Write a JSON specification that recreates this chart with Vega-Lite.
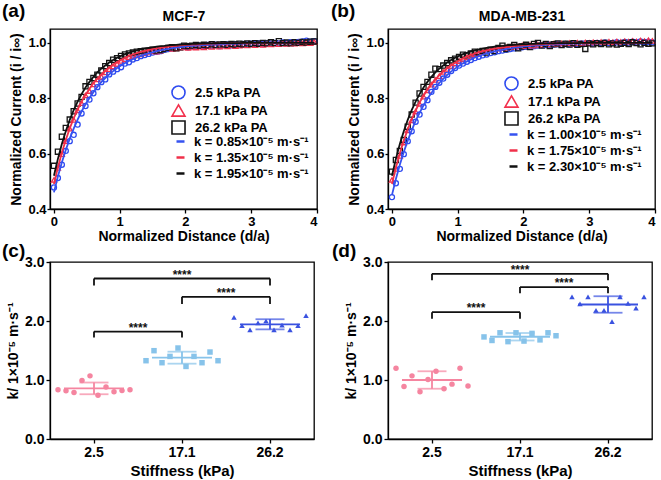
{
"$schema":"https://vega.github.io/schema/vega-lite/v6.json",
"background":"white",
"padding":{"left":1,"top":1,"right":4,"bottom":2},
"config":{"font":"Liberation Sans","view":{"stroke":"#000","strokeWidth":1.3},
"axis":{"grid":false,"domainColor":"#000","domainWidth":1.3,"tickColor":"#000","tickWidth":1.3,"tickSize":4,"labelFontWeight":"bold","labelFontSize":13,"labelColor":"#000","titleFontWeight":"bold","titleFontSize":14,"titleColor":"#000","labelPadding":2},
"title":{"fontSize":19,"fontWeight":"bold","color":"#000","anchor":"start","frame":"group"},
"legend":{"labelFontSize":13,"labelFontWeight":"bold","labelColor":"#000","padding":0,"rowPadding":4}},
"resolve":{"scale":{"color":"independent","shape":"independent","stroke":"independent"},"legend":{"color":"independent","shape":"independent","stroke":"independent"}},
"columns":2,"spacing":{"row":53,"column":71},"bounds":"flush",
"concat":[
{"width":267,"height":180,"title":{"text":"(a)","dx":-48,"offset":-12},
"data":{"values":[
{"d":0,"p25":0.478,"p171":0.505,"p262":0.556,"f25":0.46,"f171":0.49,"f262":0.52},
{"d":0.06,"p25":0.512,"p171":0.548,"p262":0.607,"f25":0.517,"f171":0.55,"f262":0.581},
{"d":0.12,"p25":0.56,"p171":0.598,"p262":0.661,"f25":0.568,"f171":0.603,"f262":0.635},
{"d":0.18,"p25":0.61,"p171":0.645,"p262":0.693,"f25":0.613,"f171":0.649,"f262":0.681},
{"d":0.24,"p25":0.645,"p171":0.69,"p262":0.723,"f25":0.654,"f171":0.691,"f262":0.722},
{"d":0.3,"p25":0.668,"p171":0.722,"p262":0.753,"f25":0.69,"f171":0.727,"f262":0.757},
{"d":0.36,"p25":0.705,"p171":0.756,"p262":0.781,"f25":0.723,"f171":0.759,"f262":0.788},
{"d":0.42,"p25":0.745,"p171":0.782,"p262":0.805,"f25":0.752,"f171":0.787,"f262":0.815},
{"d":0.48,"p25":0.772,"p171":0.81,"p262":0.843,"f25":0.778,"f171":0.812,"f262":0.839},
{"d":0.54,"p25":0.795,"p171":0.826,"p262":0.859,"f25":0.801,"f171":0.834,"f262":0.859},
{"d":0.6,"p25":0.818,"p171":0.85,"p262":0.873,"f25":0.822,"f171":0.854,"f262":0.877},
{"d":0.66,"p25":0.84,"p171":0.868,"p262":0.885,"f25":0.841,"f171":0.871,"f262":0.893},
{"d":0.72,"p25":0.858,"p171":0.878,"p262":0.9,"f25":0.858,"f171":0.886,"f262":0.907},
{"d":0.78,"p25":0.868,"p171":0.893,"p262":0.916,"f25":0.873,"f171":0.9,"f262":0.918},
{"d":0.84,"p25":0.886,"p171":0.905,"p262":0.927,"f25":0.886,"f171":0.911,"f262":0.929},
{"d":0.9,"p25":0.896,"p171":0.915,"p262":0.939,"f25":0.898,"f171":0.922,"f262":0.938},
{"d":0.96,"p25":0.905,"p171":0.924,"p262":0.945,"f25":0.909,"f171":0.931,"f262":0.946},
{"d":1.02,"p25":0.912,"p171":0.935,"p262":0.953,"f25":0.918,"f171":0.939,"f262":0.953},
{"d":1.08,"p25":0.925,"p171":0.94,"p262":0.958,"f25":0.927,"f171":0.946,"f262":0.959},
{"d":1.14,"p25":0.93,"p171":0.948,"p262":0.962,"f25":0.935,"f171":0.953,"f262":0.964},
{"d":1.2,"p25":0.94,"p171":0.952,"p262":0.965,"f25":0.941,"f171":0.958,"f262":0.969},
{"d":1.26,"p25":0.945,"p171":0.955,"p262":0.968,"f25":0.948,"f171":0.963,"f262":0.973},
{"d":1.32,"p25":0.952,"p171":0.958,"p262":0.97,"f25":0.953,"f171":0.967,"f262":0.976},
{"d":1.38,"p25":0.956,"p171":0.963,"p262":0.972,"f25":0.958,"f171":0.971,"f262":0.979},
{"d":1.44,"p25":0.96,"p171":0.967,"p262":0.971,"f25":0.962,"f171":0.975,"f262":0.982},
{"d":1.5,"p25":0.965,"p171":0.97,"p262":0.975,"f25":0.966,"f171":0.978,"f262":0.984},
{"d":1.56,"p25":0.968,"p171":0.968,"p262":0.972,"f25":0.97,"f171":0.98,"f262":0.986},
{"d":1.62,"p25":0.97,"p171":0.972,"p262":0.974,"f25":0.973,"f171":0.983,"f262":0.988},
{"d":1.68,"p25":0.975,"p171":0.978,"p262":0.978,"f25":0.976,"f171":0.985,"f262":0.989},
{"d":1.74,"p25":0.978,"p171":0.982,"p262":0.982,"f25":0.978,"f171":0.986,"f262":0.991},
{"d":1.8,"p25":0.98,"p171":0.978,"p262":0.984,"f25":0.981,"f171":0.988,"f262":0.992},
{"d":1.86,"p25":0.982,"p171":0.98,"p262":0.98,"f25":0.983,"f171":0.989,"f262":0.993},
{"d":1.92,"p25":0.985,"p171":0.983,"p262":0.984,"f25":0.985,"f171":0.991,"f262":0.994},
{"d":1.98,"p25":0.986,"p171":0.985,"p262":0.99,"f25":0.986,"f171":0.992,"f262":0.995},
{"d":2.04,"p25":0.984,"p171":0.982,"p262":0.988,"f25":0.988,"f171":0.993,"f262":0.995},
{"d":2.1,"p25":0.988,"p171":0.985,"p262":0.99,"f25":0.989,"f171":0.994,"f262":0.996},
{"d":2.16,"p25":0.987,"p171":0.983,"p262":0.992,"f25":0.99,"f171":0.994,"f262":0.996},
{"d":2.22,"p25":0.99,"p171":0.986,"p262":0.99,"f25":0.991,"f171":0.995,"f262":0.997},
{"d":2.28,"p25":0.988,"p171":0.984,"p262":0.993,"f25":0.992,"f171":0.996,"f262":0.997},
{"d":2.34,"p25":0.992,"p171":0.988,"p262":0.991,"f25":0.993,"f171":0.996,"f262":0.998},
{"d":2.4,"p25":0.99,"p171":0.985,"p262":0.995,"f25":0.994,"f171":0.997,"f262":0.998},
{"d":2.46,"p25":0.993,"p171":0.99,"p262":0.992,"f25":0.994,"f171":0.997,"f262":0.998},
{"d":2.52,"p25":0.988,"p171":0.986,"p262":0.994,"f25":0.995,"f171":0.998,"f262":0.999},
{"d":2.58,"p25":0.992,"p171":0.99,"p262":0.995,"f25":0.995,"f171":0.998,"f262":0.999},
{"d":2.64,"p25":0.994,"p171":0.987,"p262":0.993,"f25":0.996,"f171":0.998,"f262":0.999},
{"d":2.7,"p25":0.991,"p171":0.992,"p262":0.996,"f25":0.996,"f171":0.998,"f262":0.999},
{"d":2.76,"p25":0.995,"p171":0.988,"p262":0.994,"f25":0.997,"f171":0.999,"f262":0.999},
{"d":2.82,"p25":0.993,"p171":0.99,"p262":0.997,"f25":0.997,"f171":0.999,"f262":0.999},
{"d":2.88,"p25":0.996,"p171":0.993,"p262":0.995,"f25":0.997,"f171":0.999,"f262":1},
{"d":2.94,"p25":0.994,"p171":0.991,"p262":0.998,"f25":0.998,"f171":0.999,"f262":1},
{"d":3,"p25":0.997,"p171":0.994,"p262":0.996,"f25":0.998,"f171":0.999,"f262":1},
{"d":3.06,"p25":0.995,"p171":0.992,"p262":0.999,"f25":0.998,"f171":0.999,"f262":1},
{"d":3.12,"p25":0.998,"p171":0.995,"p262":0.997,"f25":0.998,"f171":1,"f262":1},
{"d":3.18,"p25":0.996,"p171":0.993,"p262":1,"f25":0.999,"f171":1,"f262":1},
{"d":3.24,"p25":0.999,"p171":0.996,"p262":0.998,"f25":0.999,"f171":1,"f262":1},
{"d":3.3,"p25":0.997,"p171":0.994,"p262":1.002,"f25":0.999,"f171":1,"f262":1},
{"d":3.36,"p25":1,"p171":0.997,"p262":0.999,"f25":0.999,"f171":1,"f262":1},
{"d":3.42,"p25":0.998,"p171":0.995,"p262":1.006,"f25":0.999,"f171":1,"f262":1},
{"d":3.48,"p25":1.001,"p171":0.998,"p262":0.999,"f25":0.999,"f171":1,"f262":1},
{"d":3.54,"p25":0.999,"p171":0.996,"p262":1.001,"f25":0.999,"f171":1,"f262":1},
{"d":3.6,"p25":1.002,"p171":0.999,"p262":0.998,"f25":1,"f171":1,"f262":1},
{"d":3.66,"p25":1,"p171":0.997,"p262":1.002,"f25":1,"f171":1,"f262":1},
{"d":3.72,"p25":1.003,"p171":1,"p262":1,"f25":1,"f171":1,"f262":1},
{"d":3.78,"p25":1.005,"p171":0.998,"p262":1.003,"f25":1,"f171":1,"f262":1},
{"d":3.84,"p25":1.008,"p171":1.002,"p262":1.001,"f25":1,"f171":1,"f262":1},
{"d":3.9,"p25":1.004,"p171":0.999,"p262":1.004,"f25":1,"f171":1,"f262":1},
{"d":3.96,"p25":1.006,"p171":1.003,"p262":1.005,"f25":1,"f171":1,"f262":1}]},
"resolve":{"axis":{"x":"independent"}},
"layer":[
{"transform":[{"fold":["p25","p171","p262"],"as":["s","v"]}],
"mark":{"type":"point","filled":false,"size":26,"strokeWidth":1.3,"opacity":1},
"encoding":{
"x":{"field":"d","type":"quantitative","title":"Normalized Distance (d/a)","scale":{"domain":[-0.06,4],"nice":false,"zero":false},"axis":{"values":[0,1,2,3,4],"titlePadding":1}},
"y":{"field":"v","type":"quantitative","title":"Normalized Current (i / i∞)","scale":{"domain":[0.4,1.05],"nice":false,"zero":false},"axis":{"values":[0.4,0.6,0.8,1.0],"format":".1f","tickSize":3,"labelPadding":1,"titlePadding":4}},
"color":{"field":"s","type":"nominal","scale":{"domain":["p25","p171","p262"],"range":["#2E4BF0","#F2304C","#151515"]},"legend":{"orient":"none","legendX":121,"legendY":56,"title":null,"symbolSize":170,"symbolStrokeWidth":1.6,"labelOffset":9,"rowPadding":-5,"labelExpr":"datum.value=='p25'?'2.5 kPa PA':datum.value=='p171'?'17.1 kPa PA':'26.2 kPa PA'"}},
"shape":{"field":"s","type":"nominal","scale":{"domain":["p25","p171","p262"],"range":["circle","triangle-up","square"]},"legend":{"orient":"none","legendX":121,"legendY":56,"title":null,"symbolSize":170,"symbolStrokeWidth":1.6,"labelOffset":9,"rowPadding":-5,"labelExpr":"datum.value=='p25'?'2.5 kPa PA':datum.value=='p171'?'17.1 kPa PA':'26.2 kPa PA'"}}}},
{"transform":[{"fold":["f25","f171","f262"],"as":["s","v"]}],
"mark":{"type":"line","strokeWidth":1.8},
"encoding":{
"x":{"field":"d","type":"quantitative","title":"MCF-7","scale":{"domain":[-0.06,4],"nice":false,"zero":false},"axis":{"orient":"top","labels":false,"ticks":false,"domain":false,"titlePadding":6}},
"y":{"field":"v","type":"quantitative","title":"Normalized Current (i / i∞)","scale":{"domain":[0.4,1.05],"nice":false,"zero":false},"axis":{"values":[0.4,0.6,0.8,1.0],"format":".1f","tickSize":3,"labelPadding":1,"titlePadding":4}},
"stroke":{"field":"s","type":"nominal","scale":{"domain":["f25","f171","f262"],"range":["#3552F0","#F0304A","#111111"]},"legend":{"orient":"none","legendX":124,"legendY":106,"title":null,"symbolType":"stroke","symbolSize":64,"symbolStrokeWidth":2.5,"labelOffset":7,"rowPadding":2,"labelExpr":"datum.value=='f25'?'k = 0.85×10⁻⁵ m·s⁻¹':datum.value=='f171'?'k = 1.35×10⁻⁵ m·s⁻¹':'k = 1.95×10⁻⁵ m·s⁻¹'"}}}}]},
{"width":267,"height":180,"title":{"text":"(b)","dx":-57,"offset":-12},
"data":{"values":[
{"d":0,"p25":0.443,"p171":0.505,"p262":0.535,"f25":0.45,"f171":0.49,"f262":0.52},
{"d":0.06,"p25":0.493,"p171":0.545,"p262":0.577,"f25":0.508,"f171":0.549,"f262":0.581},
{"d":0.12,"p25":0.545,"p171":0.592,"p262":0.61,"f25":0.56,"f171":0.601,"f262":0.635},
{"d":0.18,"p25":0.598,"p171":0.64,"p262":0.649,"f25":0.606,"f171":0.647,"f262":0.681},
{"d":0.24,"p25":0.645,"p171":0.684,"p262":0.697,"f25":0.647,"f171":0.688,"f262":0.722},
{"d":0.3,"p25":0.681,"p171":0.72,"p262":0.741,"f25":0.684,"f171":0.724,"f262":0.757},
{"d":0.36,"p25":0.715,"p171":0.752,"p262":0.784,"f25":0.718,"f171":0.755,"f262":0.788},
{"d":0.42,"p25":0.741,"p171":0.78,"p262":0.817,"f25":0.747,"f171":0.784,"f262":0.815},
{"d":0.48,"p25":0.769,"p171":0.806,"p262":0.841,"f25":0.774,"f171":0.809,"f262":0.839},
{"d":0.54,"p25":0.793,"p171":0.828,"p262":0.859,"f25":0.798,"f171":0.831,"f262":0.859},
{"d":0.6,"p25":0.823,"p171":0.849,"p262":0.885,"f25":0.819,"f171":0.85,"f262":0.877},
{"d":0.66,"p25":0.841,"p171":0.866,"p262":0.907,"f25":0.838,"f171":0.867,"f262":0.893},
{"d":0.72,"p25":0.856,"p171":0.88,"p262":0.905,"f25":0.855,"f171":0.883,"f262":0.907},
{"d":0.78,"p25":0.871,"p171":0.895,"p262":0.918,"f25":0.87,"f171":0.896,"f262":0.918},
{"d":0.84,"p25":0.885,"p171":0.906,"p262":0.927,"f25":0.884,"f171":0.908,"f262":0.929},
{"d":0.9,"p25":0.898,"p171":0.917,"p262":0.937,"f25":0.896,"f171":0.919,"f262":0.938},
{"d":0.96,"p25":0.909,"p171":0.926,"p262":0.943,"f25":0.907,"f171":0.928,"f262":0.946},
{"d":1.02,"p25":0.918,"p171":0.934,"p262":0.949,"f25":0.917,"f171":0.936,"f262":0.953},
{"d":1.08,"p25":0.925,"p171":0.942,"p262":0.957,"f25":0.926,"f171":0.944,"f262":0.959},
{"d":1.14,"p25":0.932,"p171":0.948,"p262":0.955,"f25":0.933,"f171":0.95,"f262":0.964},
{"d":1.2,"p25":0.938,"p171":0.953,"p262":0.962,"f25":0.94,"f171":0.956,"f262":0.969},
{"d":1.26,"p25":0.945,"p171":0.958,"p262":0.968,"f25":0.947,"f171":0.961,"f262":0.973},
{"d":1.32,"p25":0.95,"p171":0.962,"p262":0.966,"f25":0.952,"f171":0.966,"f262":0.976},
{"d":1.38,"p25":0.955,"p171":0.966,"p262":0.971,"f25":0.957,"f171":0.97,"f262":0.979},
{"d":1.44,"p25":0.958,"p171":0.97,"p262":0.965,"f25":0.962,"f171":0.973,"f262":0.982},
{"d":1.5,"p25":0.963,"p171":0.974,"p262":0.975,"f25":0.966,"f171":0.976,"f262":0.984},
{"d":1.56,"p25":0.966,"p171":0.976,"p262":0.97,"f25":0.969,"f171":0.979,"f262":0.986},
{"d":1.62,"p25":0.97,"p171":0.979,"p262":0.982,"f25":0.973,"f171":0.981,"f262":0.988},
{"d":1.68,"p25":0.972,"p171":0.981,"p262":0.99,"f25":0.975,"f171":0.983,"f262":0.989},
{"d":1.74,"p25":0.975,"p171":0.983,"p262":0.978,"f25":0.978,"f171":0.985,"f262":0.991},
{"d":1.8,"p25":0.978,"p171":0.984,"p262":0.985,"f25":0.98,"f171":0.987,"f262":0.992},
{"d":1.86,"p25":0.98,"p171":0.986,"p262":0.992,"f25":0.983,"f171":0.988,"f262":0.993},
{"d":1.92,"p25":0.982,"p171":0.987,"p262":0.98,"f25":0.984,"f171":0.99,"f262":0.994},
{"d":1.98,"p25":0.984,"p171":0.99,"p262":0.987,"f25":0.986,"f171":0.991,"f262":0.995},
{"d":2.04,"p25":0.986,"p171":0.988,"p262":0.993,"f25":0.987,"f171":0.992,"f262":0.995},
{"d":2.1,"p25":0.987,"p171":0.991,"p262":0.985,"f25":0.989,"f171":0.993,"f262":0.996},
{"d":2.16,"p25":0.988,"p171":0.99,"p262":0.996,"f25":0.99,"f171":0.994,"f262":0.996},
{"d":2.22,"p25":0.99,"p171":0.993,"p262":1,"f25":0.991,"f171":0.995,"f262":0.997},
{"d":2.28,"p25":0.991,"p171":0.992,"p262":0.99,"f25":0.992,"f171":0.995,"f262":0.997},
{"d":2.34,"p25":0.992,"p171":0.995,"p262":0.996,"f25":0.993,"f171":0.996,"f262":0.998},
{"d":2.4,"p25":0.993,"p171":0.994,"p262":0.988,"f25":0.994,"f171":0.996,"f262":0.998},
{"d":2.46,"p25":0.994,"p171":0.997,"p262":0.995,"f25":0.994,"f171":0.997,"f262":0.998},
{"d":2.52,"p25":0.995,"p171":0.995,"p262":0.998,"f25":0.995,"f171":0.997,"f262":0.999},
{"d":2.58,"p25":0.993,"p171":0.998,"p262":0.992,"f25":0.995,"f171":0.998,"f262":0.999},
{"d":2.64,"p25":0.996,"p171":0.996,"p262":0.997,"f25":0.996,"f171":0.998,"f262":0.999},
{"d":2.7,"p25":0.995,"p171":0.999,"p262":0.994,"f25":0.996,"f171":0.998,"f262":0.999},
{"d":2.76,"p25":0.997,"p171":0.997,"p262":0.999,"f25":0.997,"f171":0.998,"f262":0.999},
{"d":2.82,"p25":0.996,"p171":1,"p262":0.993,"f25":0.997,"f171":0.999,"f262":0.999},
{"d":2.88,"p25":0.998,"p171":0.998,"p262":0.996,"f25":0.997,"f171":0.999,"f262":1},
{"d":2.94,"p25":0.997,"p171":1.001,"p262":0.978,"f25":0.998,"f171":0.999,"f262":1},
{"d":3,"p25":0.999,"p171":0.999,"p262":0.998,"f25":0.998,"f171":0.999,"f262":1},
{"d":3.06,"p25":0.998,"p171":1.002,"p262":0.995,"f25":0.998,"f171":0.999,"f262":1},
{"d":3.12,"p25":1,"p171":1,"p262":0.999,"f25":0.998,"f171":0.999,"f262":1},
{"d":3.18,"p25":0.999,"p171":1.003,"p262":0.996,"f25":0.999,"f171":1,"f262":1},
{"d":3.24,"p25":1.001,"p171":1.001,"p262":1,"f25":0.999,"f171":1,"f262":1},
{"d":3.3,"p25":0.999,"p171":1.004,"p262":0.995,"f25":0.999,"f171":1,"f262":1},
{"d":3.36,"p25":1,"p171":1.002,"p262":0.998,"f25":0.999,"f171":1,"f262":1},
{"d":3.42,"p25":1.002,"p171":1.005,"p262":0.994,"f25":0.999,"f171":1,"f262":1},
{"d":3.48,"p25":1,"p171":1.003,"p262":0.997,"f25":0.999,"f171":1,"f262":1},
{"d":3.54,"p25":1.003,"p171":1.006,"p262":1,"f25":0.999,"f171":1,"f262":1},
{"d":3.6,"p25":1.001,"p171":1.004,"p262":0.996,"f25":1,"f171":1,"f262":1},
{"d":3.66,"p25":1.004,"p171":1.007,"p262":1.002,"f25":1,"f171":1,"f262":1},
{"d":3.72,"p25":1.002,"p171":1.005,"p262":0.999,"f25":1,"f171":1,"f262":1},
{"d":3.78,"p25":1.005,"p171":1.008,"p262":0.995,"f25":1,"f171":1,"f262":1},
{"d":3.84,"p25":1.003,"p171":1.006,"p262":1,"f25":1,"f171":1,"f262":1},
{"d":3.9,"p25":1.004,"p171":1.009,"p262":0.997,"f25":1,"f171":1,"f262":1},
{"d":3.96,"p25":1.002,"p171":1.007,"p262":0.998,"f25":1,"f171":1,"f262":1}]},
"resolve":{"axis":{"x":"independent"}},
"layer":[
{"transform":[{"fold":["p25","p171","p262"],"as":["s","v"]}],
"mark":{"type":"point","filled":false,"size":26,"strokeWidth":1.3,"opacity":1},
"encoding":{
"x":{"field":"d","type":"quantitative","title":"Normalized Distance (d/a)","scale":{"domain":[-0.06,4],"nice":false,"zero":false},"axis":{"values":[0,1,2,3,4],"titlePadding":1}},
"y":{"field":"v","type":"quantitative","title":"Normalized Current (i / i∞)","scale":{"domain":[0.4,1.05],"nice":false,"zero":false},"axis":{"values":[0.4,0.6,0.8,1.0],"format":".1f","tickSize":3,"labelPadding":1,"titlePadding":4}},
"color":{"field":"s","type":"nominal","scale":{"domain":["p25","p171","p262"],"range":["#2E4BF0","#F2304C","#151515"]},"legend":{"orient":"none","legendX":116,"legendY":47,"title":null,"symbolSize":170,"symbolStrokeWidth":1.6,"labelOffset":9,"rowPadding":-5,"labelExpr":"datum.value=='p25'?'2.5 kPa PA':datum.value=='p171'?'17.1 kPa PA':'26.2 kPa PA'"}},
"shape":{"field":"s","type":"nominal","scale":{"domain":["p25","p171","p262"],"range":["circle","triangle-up","square"]},"legend":{"orient":"none","legendX":116,"legendY":47,"title":null,"symbolSize":170,"symbolStrokeWidth":1.6,"labelOffset":9,"rowPadding":-5,"labelExpr":"datum.value=='p25'?'2.5 kPa PA':datum.value=='p171'?'17.1 kPa PA':'26.2 kPa PA'"}}}},
{"transform":[{"fold":["f25","f171","f262"],"as":["s","v"]}],
"mark":{"type":"line","strokeWidth":1.8},
"encoding":{
"x":{"field":"d","type":"quantitative","title":"MDA-MB-231","scale":{"domain":[-0.06,4],"nice":false,"zero":false},"axis":{"orient":"top","labels":false,"ticks":false,"domain":false,"titlePadding":6}},
"y":{"field":"v","type":"quantitative","title":"Normalized Current (i / i∞)","scale":{"domain":[0.4,1.05],"nice":false,"zero":false},"axis":{"values":[0.4,0.6,0.8,1.0],"format":".1f","tickSize":3,"labelPadding":1,"titlePadding":4}},
"stroke":{"field":"s","type":"nominal","scale":{"domain":["f25","f171","f262"],"range":["#3552F0","#F0304A","#111111"]},"legend":{"orient":"none","legendX":119,"legendY":99,"title":null,"symbolType":"stroke","symbolSize":64,"symbolStrokeWidth":2.5,"labelOffset":7,"rowPadding":2,"labelExpr":"datum.value=='f25'?'k = 1.00×10⁻⁵ m·s⁻¹':datum.value=='f171'?'k = 1.75×10⁻⁵ m·s⁻¹':'k = 2.30×10⁻⁵ m·s⁻¹'"}}}}]},
{"width":264,"height":177,"title":{"text":"(c)","dx":-48,"offset":-6},
"data":{"values":[
{"stiff":"2.5","rep":1,"k":0.835},{"stiff":"2.5","rep":2,"k":0.818},{"stiff":"2.5","rep":3,"k":0.79},{"stiff":"2.5","rep":4,"k":0.99},{"stiff":"2.5","rep":5,"k":1.07},{"stiff":"2.5","rep":6,"k":0.74},{"stiff":"2.5","rep":7,"k":0.88},{"stiff":"2.5","rep":8,"k":0.8},{"stiff":"2.5","rep":9,"k":0.82},{"stiff":"2.5","rep":10,"k":0.835},
{"stiff":"17.1","rep":1,"k":1.327},{"stiff":"17.1","rep":2,"k":1.497},{"stiff":"17.1","rep":3,"k":1.293},{"stiff":"17.1","rep":4,"k":1.4},{"stiff":"17.1","rep":5,"k":1.542},{"stiff":"17.1","rep":6,"k":1.23},{"stiff":"17.1","rep":7,"k":1.4},{"stiff":"17.1","rep":8,"k":1.293},{"stiff":"17.1","rep":9,"k":1.474},{"stiff":"17.1","rep":10,"k":1.327},
{"stiff":"26.2","rep":1,"k":2.06},{"stiff":"26.2","rep":2,"k":1.92},{"stiff":"26.2","rep":3,"k":1.85},{"stiff":"26.2","rep":4,"k":1.97},{"stiff":"26.2","rep":5,"k":2.0},{"stiff":"26.2","rep":6,"k":1.85},{"stiff":"26.2","rep":7,"k":1.93},{"stiff":"26.2","rep":8,"k":1.85},{"stiff":"26.2","rep":9,"k":1.92},{"stiff":"26.2","rep":10,"k":2.09}]},
"layer":[
{"mark":{"type":"point","filled":true,"size":30,"opacity":1},
"encoding":{
"x":{"field":"stiff","type":"nominal","title":"Stiffness (kPa)","scale":{"type":"band","domain":["2.5","17.1","26.2"],"paddingInner":0,"paddingOuter":0},"axis":{"labelAngle":0,"labelFontSize":14,"titleFontSize":15,"titlePadding":4}},
"xOffset":{"field":"rep","type":"ordinal","scale":{"type":"point","padding":4.7}},
"y":{"field":"k","type":"quantitative","title":"k/ 1×10⁻⁵ m·s⁻¹","scale":{"domain":[0,3]},"axis":{"values":[0,1,2,3],"labelFontSize":14,"titlePadding":4}},
"color":{"field":"stiff","type":"nominal","scale":{"domain":["2.5","17.1","26.2"],"range":["#F585A0","#87C3EA","#3A52E0"]},"legend":null},
"shape":{"field":"stiff","type":"nominal","scale":{"domain":["2.5","17.1","26.2"],"range":["circle","square","triangle-up"]},"legend":null}}},
{"mark":{"type":"tick","size":60,"thickness":1.8},
"encoding":{
"x":{"field":"stiff","type":"nominal","title":"Stiffness (kPa)","scale":{"type":"band","domain":["2.5","17.1","26.2"],"paddingInner":0,"paddingOuter":0}},
"y":{"aggregate":"mean","field":"k","type":"quantitative","title":"k/ 1×10⁻⁵ m·s⁻¹","scale":{"domain":[0,3]}},
"color":{"field":"stiff","type":"nominal","legend":null}}},
{"mark":{"type":"errorbar","extent":"stdev","thickness":1.8,"ticks":{"size":29,"thickness":1.8}},
"encoding":{
"x":{"field":"stiff","type":"nominal","title":"Stiffness (kPa)","scale":{"type":"band","domain":["2.5","17.1","26.2"],"paddingInner":0,"paddingOuter":0}},
"y":{"field":"k","type":"quantitative","title":"k/ 1×10⁻⁵ m·s⁻¹","scale":{"domain":[0,3]}},
"color":{"field":"stiff","type":"nominal","legend":null}}},
{"data":{"values":[{"from":"2.5","to":"17.1","top":1.82,"drop":1.72,"span":1},{"from":"17.1","to":"26.2","top":2.41,"drop":2.29,"span":1},{"from":"2.5","to":"26.2","mid":"17.1","top":2.72,"drop":2.6,"span":2}]},
"layer":[
{"mark":{"type":"rule","strokeWidth":1.8,"color":"#111"},"encoding":{"x":{"field":"from","type":"nominal","title":"Stiffness (kPa)","scale":{"type":"band","domain":["2.5","17.1","26.2"],"paddingInner":0,"paddingOuter":0}},"x2":{"field":"to"},"y":{"field":"top","type":"quantitative","title":"k/ 1×10⁻⁵ m·s⁻¹","scale":{"domain":[0,3]}}}},
{"mark":{"type":"rule","strokeWidth":1.8,"color":"#111"},"encoding":{"x":{"field":"from","type":"nominal","title":"Stiffness (kPa)","scale":{"type":"band","domain":["2.5","17.1","26.2"],"paddingInner":0,"paddingOuter":0}},"y":{"field":"top","type":"quantitative","title":"k/ 1×10⁻⁵ m·s⁻¹","scale":{"domain":[0,3]}},"y2":{"field":"drop"}}},
{"mark":{"type":"rule","strokeWidth":1.8,"color":"#111"},"encoding":{"x":{"field":"to","type":"nominal","title":"Stiffness (kPa)","scale":{"type":"band","domain":["2.5","17.1","26.2"],"paddingInner":0,"paddingOuter":0}},"y":{"field":"top","type":"quantitative","title":"k/ 1×10⁻⁵ m·s⁻¹","scale":{"domain":[0,3]}},"y2":{"field":"drop"}}},
{"transform":[{"filter":"datum.span==1"}],"mark":{"type":"text","text":"****","fontSize":12,"fontWeight":"bold","baseline":"alphabetic","align":"center","color":"#111"},"encoding":{"x":{"field":"from","type":"nominal","bandPosition":1,"title":"Stiffness (kPa)","scale":{"type":"band","domain":["2.5","17.1","26.2"],"paddingInner":0,"paddingOuter":0}},"y":{"field":"top","type":"quantitative","title":"k/ 1×10⁻⁵ m·s⁻¹","scale":{"domain":[0,3]}}}},
{"transform":[{"filter":"datum.span==2"}],"mark":{"type":"text","text":"****","fontSize":12,"fontWeight":"bold","baseline":"alphabetic","align":"center","color":"#111"},"encoding":{"x":{"field":"mid","type":"nominal","title":"Stiffness (kPa)","scale":{"type":"band","domain":["2.5","17.1","26.2"],"paddingInner":0,"paddingOuter":0}},"y":{"field":"top","type":"quantitative","title":"k/ 1×10⁻⁵ m·s⁻¹","scale":{"domain":[0,3]}}}}]}]},
{"width":264,"height":177,"title":{"text":"(d)","dx":-56,"offset":-6},
"data":{"values":[
{"stiff":"2.5","rep":1,"k":1.2},{"stiff":"2.5","rep":2,"k":0.89},{"stiff":"2.5","rep":3,"k":1.07},{"stiff":"2.5","rep":4,"k":0.8},{"stiff":"2.5","rep":5,"k":1.01},{"stiff":"2.5","rep":6,"k":1.15},{"stiff":"2.5","rep":7,"k":0.85},{"stiff":"2.5","rep":8,"k":0.93},{"stiff":"2.5","rep":9,"k":1.2},{"stiff":"2.5","rep":10,"k":0.9},
{"stiff":"17.1","rep":1,"k":1.73},{"stiff":"17.1","rep":2,"k":1.67},{"stiff":"17.1","rep":3,"k":1.8},{"stiff":"17.1","rep":4,"k":1.65},{"stiff":"17.1","rep":5,"k":1.8},{"stiff":"17.1","rep":6,"k":1.66},{"stiff":"17.1","rep":7,"k":1.79},{"stiff":"17.1","rep":8,"k":1.68},{"stiff":"17.1","rep":9,"k":1.8},{"stiff":"17.1","rep":10,"k":1.75},
{"stiff":"26.2","rep":1,"k":2.41},{"stiff":"26.2","rep":2,"k":2.29},{"stiff":"26.2","rep":3,"k":2.41},{"stiff":"26.2","rep":4,"k":2.18},{"stiff":"26.2","rep":5,"k":2.18},{"stiff":"26.2","rep":6,"k":1.99},{"stiff":"26.2","rep":7,"k":2.41},{"stiff":"26.2","rep":8,"k":2.3},{"stiff":"26.2","rep":9,"k":2.22},{"stiff":"26.2","rep":10,"k":2.41}]},
"layer":[
{"mark":{"type":"point","filled":true,"size":30,"opacity":1},
"encoding":{
"x":{"field":"stiff","type":"nominal","title":"Stiffness (kPa)","scale":{"type":"band","domain":["2.5","17.1","26.2"],"paddingInner":0,"paddingOuter":0},"axis":{"labelAngle":0,"labelFontSize":14,"titleFontSize":15,"titlePadding":4}},
"xOffset":{"field":"rep","type":"ordinal","scale":{"type":"point","padding":4.7}},
"y":{"field":"k","type":"quantitative","title":"k/ 1×10⁻⁵ m·s⁻¹","scale":{"domain":[0,3]},"axis":{"values":[0,1,2,3],"labelFontSize":14,"titlePadding":4}},
"color":{"field":"stiff","type":"nominal","scale":{"domain":["2.5","17.1","26.2"],"range":["#F585A0","#87C3EA","#3A52E0"]},"legend":null},
"shape":{"field":"stiff","type":"nominal","scale":{"domain":["2.5","17.1","26.2"],"range":["circle","square","triangle-up"]},"legend":null}}},
{"mark":{"type":"tick","size":60,"thickness":1.8},
"encoding":{
"x":{"field":"stiff","type":"nominal","title":"Stiffness (kPa)","scale":{"type":"band","domain":["2.5","17.1","26.2"],"paddingInner":0,"paddingOuter":0}},
"y":{"aggregate":"mean","field":"k","type":"quantitative","title":"k/ 1×10⁻⁵ m·s⁻¹","scale":{"domain":[0,3]}},
"color":{"field":"stiff","type":"nominal","legend":null}}},
{"mark":{"type":"errorbar","extent":"stdev","thickness":1.8,"ticks":{"size":29,"thickness":1.8}},
"encoding":{
"x":{"field":"stiff","type":"nominal","title":"Stiffness (kPa)","scale":{"type":"band","domain":["2.5","17.1","26.2"],"paddingInner":0,"paddingOuter":0}},
"y":{"field":"k","type":"quantitative","title":"k/ 1×10⁻⁵ m·s⁻¹","scale":{"domain":[0,3]}},
"color":{"field":"stiff","type":"nominal","legend":null}}},
{"data":{"values":[{"from":"2.5","to":"17.1","top":2.15,"drop":2.04,"span":1},{"from":"17.1","to":"26.2","top":2.575,"drop":2.47,"span":1},{"from":"2.5","to":"26.2","mid":"17.1","top":2.8,"drop":2.69,"span":2}]},
"layer":[
{"mark":{"type":"rule","strokeWidth":1.8,"color":"#111"},"encoding":{"x":{"field":"from","type":"nominal","title":"Stiffness (kPa)","scale":{"type":"band","domain":["2.5","17.1","26.2"],"paddingInner":0,"paddingOuter":0}},"x2":{"field":"to"},"y":{"field":"top","type":"quantitative","title":"k/ 1×10⁻⁵ m·s⁻¹","scale":{"domain":[0,3]}}}},
{"mark":{"type":"rule","strokeWidth":1.8,"color":"#111"},"encoding":{"x":{"field":"from","type":"nominal","title":"Stiffness (kPa)","scale":{"type":"band","domain":["2.5","17.1","26.2"],"paddingInner":0,"paddingOuter":0}},"y":{"field":"top","type":"quantitative","title":"k/ 1×10⁻⁵ m·s⁻¹","scale":{"domain":[0,3]}},"y2":{"field":"drop"}}},
{"mark":{"type":"rule","strokeWidth":1.8,"color":"#111"},"encoding":{"x":{"field":"to","type":"nominal","title":"Stiffness (kPa)","scale":{"type":"band","domain":["2.5","17.1","26.2"],"paddingInner":0,"paddingOuter":0}},"y":{"field":"top","type":"quantitative","title":"k/ 1×10⁻⁵ m·s⁻¹","scale":{"domain":[0,3]}},"y2":{"field":"drop"}}},
{"transform":[{"filter":"datum.span==1"}],"mark":{"type":"text","text":"****","fontSize":12,"fontWeight":"bold","baseline":"alphabetic","align":"center","color":"#111"},"encoding":{"x":{"field":"from","type":"nominal","bandPosition":1,"title":"Stiffness (kPa)","scale":{"type":"band","domain":["2.5","17.1","26.2"],"paddingInner":0,"paddingOuter":0}},"y":{"field":"top","type":"quantitative","title":"k/ 1×10⁻⁵ m·s⁻¹","scale":{"domain":[0,3]}}}},
{"transform":[{"filter":"datum.span==2"}],"mark":{"type":"text","text":"****","fontSize":12,"fontWeight":"bold","baseline":"alphabetic","align":"center","color":"#111"},"encoding":{"x":{"field":"mid","type":"nominal","title":"Stiffness (kPa)","scale":{"type":"band","domain":["2.5","17.1","26.2"],"paddingInner":0,"paddingOuter":0}},"y":{"field":"top","type":"quantitative","title":"k/ 1×10⁻⁵ m·s⁻¹","scale":{"domain":[0,3]}}}}]}]}
]}
